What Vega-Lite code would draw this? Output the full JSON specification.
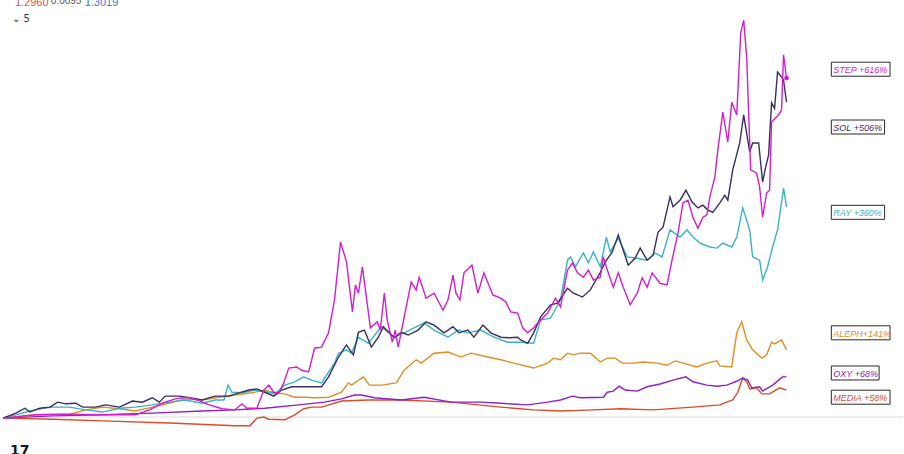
{
  "$schema": "https://vega.github.io/schema/vega-lite/v6.json",
  "width": 904,
  "height": 454,
  "autosize": {"type": "fit", "contains": "padding"},
  "padding": 0,
  "background": "#ffffff",
  "config": {"view": {"stroke": null}},
  "datasets": {
    "prices": [
      {"s":"MEDIA","t":0,"v":-2},{"s":"MEDIA","t":50,"v":-4},{"s":"MEDIA","t":100,"v":-7},{"s":"MEDIA","t":167,"v":-11},{"s":"MEDIA","t":233,"v":-16},{"s":"MEDIA","t":248,"v":-16},{"s":"MEDIA","t":255,"v":-2},{"s":"MEDIA","t":262,"v":0},{"s":"MEDIA","t":267,"v":-4},{"s":"MEDIA","t":283,"v":-5},{"s":"MEDIA","t":293,"v":4},{"s":"MEDIA","t":302,"v":15},{"s":"MEDIA","t":310,"v":18},{"s":"MEDIA","t":320,"v":18},{"s":"MEDIA","t":340,"v":29},{"s":"MEDIA","t":367,"v":31},{"s":"MEDIA","t":400,"v":31},{"s":"MEDIA","t":450,"v":27},{"s":"MEDIA","t":500,"v":18},{"s":"MEDIA","t":533,"v":13},{"s":"MEDIA","t":560,"v":11},{"s":"MEDIA","t":593,"v":13},{"s":"MEDIA","t":620,"v":15},{"s":"MEDIA","t":653,"v":13},{"s":"MEDIA","t":693,"v":18},{"s":"MEDIA","t":720,"v":22},{"s":"MEDIA","t":727,"v":27},{"s":"MEDIA","t":733,"v":31},{"s":"MEDIA","t":738,"v":45},{"s":"MEDIA","t":743,"v":71},{"s":"MEDIA","t":747,"v":64},{"s":"MEDIA","t":750,"v":51},{"s":"MEDIA","t":757,"v":53},{"s":"MEDIA","t":762,"v":42},{"s":"MEDIA","t":770,"v":42},{"s":"MEDIA","t":780,"v":53},{"s":"MEDIA","t":787,"v":49},

      {"s":"OXY","t":0,"v":-2},{"s":"OXY","t":50,"v":2},{"s":"OXY","t":100,"v":4},{"s":"OXY","t":150,"v":7},{"s":"OXY","t":200,"v":11},{"s":"OXY","t":233,"v":13},{"s":"OXY","t":263,"v":16},{"s":"OXY","t":297,"v":22},{"s":"OXY","t":323,"v":27},{"s":"OXY","t":340,"v":33},{"s":"OXY","t":353,"v":40},{"s":"OXY","t":360,"v":40},{"s":"OXY","t":373,"v":35},{"s":"OXY","t":400,"v":31},{"s":"OXY","t":423,"v":36},{"s":"OXY","t":450,"v":27},{"s":"OXY","t":480,"v":27},{"s":"OXY","t":500,"v":25},{"s":"OXY","t":527,"v":22},{"s":"OXY","t":547,"v":27},{"s":"OXY","t":560,"v":31},{"s":"OXY","t":572,"v":38},{"s":"OXY","t":580,"v":35},{"s":"OXY","t":603,"v":36},{"s":"OXY","t":607,"v":45},{"s":"OXY","t":613,"v":47},{"s":"OXY","t":619,"v":56},{"s":"OXY","t":625,"v":49},{"s":"OXY","t":637,"v":47},{"s":"OXY","t":647,"v":55},{"s":"OXY","t":660,"v":60},{"s":"OXY","t":673,"v":67},{"s":"OXY","t":686,"v":73},{"s":"OXY","t":693,"v":64},{"s":"OXY","t":707,"v":58},{"s":"OXY","t":717,"v":56},{"s":"OXY","t":727,"v":58},{"s":"OXY","t":737,"v":65},{"s":"OXY","t":743,"v":71},{"s":"OXY","t":748,"v":67},{"s":"OXY","t":752,"v":53},{"s":"OXY","t":760,"v":55},{"s":"OXY","t":763,"v":47},{"s":"OXY","t":773,"v":58},{"s":"OXY","t":783,"v":73},{"s":"OXY","t":787,"v":73},

      {"s":"ALEPH","t":0,"v":-2},{"s":"ALEPH","t":33,"v":4},{"s":"ALEPH","t":67,"v":5},{"s":"ALEPH","t":83,"v":13},{"s":"ALEPH","t":100,"v":18},{"s":"ALEPH","t":117,"v":15},{"s":"ALEPH","t":133,"v":11},{"s":"ALEPH","t":150,"v":18},{"s":"ALEPH","t":167,"v":25},{"s":"ALEPH","t":183,"v":33},{"s":"ALEPH","t":200,"v":31},{"s":"ALEPH","t":217,"v":36},{"s":"ALEPH","t":233,"v":40},{"s":"ALEPH","t":250,"v":44},{"s":"ALEPH","t":263,"v":49},{"s":"ALEPH","t":273,"v":44},{"s":"ALEPH","t":283,"v":42},{"s":"ALEPH","t":293,"v":36},{"s":"ALEPH","t":303,"v":36},{"s":"ALEPH","t":313,"v":35},{"s":"ALEPH","t":327,"v":36},{"s":"ALEPH","t":340,"v":45},{"s":"ALEPH","t":347,"v":62},{"s":"ALEPH","t":350,"v":58},{"s":"ALEPH","t":362,"v":73},{"s":"ALEPH","t":368,"v":58},{"s":"ALEPH","t":380,"v":58},{"s":"ALEPH","t":395,"v":62},{"s":"ALEPH","t":403,"v":85},{"s":"ALEPH","t":415,"v":104},{"s":"ALEPH","t":420,"v":98},{"s":"ALEPH","t":433,"v":116},{"s":"ALEPH","t":447,"v":118},{"s":"ALEPH","t":460,"v":109},{"s":"ALEPH","t":470,"v":116},{"s":"ALEPH","t":487,"v":109},{"s":"ALEPH","t":500,"v":104},{"s":"ALEPH","t":513,"v":98},{"s":"ALEPH","t":533,"v":89},{"s":"ALEPH","t":547,"v":98},{"s":"ALEPH","t":553,"v":107},{"s":"ALEPH","t":560,"v":104},{"s":"ALEPH","t":567,"v":116},{"s":"ALEPH","t":573,"v":113},{"s":"ALEPH","t":580,"v":116},{"s":"ALEPH","t":590,"v":116},{"s":"ALEPH","t":600,"v":100},{"s":"ALEPH","t":607,"v":107},{"s":"ALEPH","t":615,"v":107},{"s":"ALEPH","t":622,"v":98},{"s":"ALEPH","t":633,"v":98},{"s":"ALEPH","t":643,"v":100},{"s":"ALEPH","t":657,"v":98},{"s":"ALEPH","t":667,"v":94},{"s":"ALEPH","t":675,"v":102},{"s":"ALEPH","t":683,"v":98},{"s":"ALEPH","t":697,"v":91},{"s":"ALEPH","t":707,"v":98},{"s":"ALEPH","t":717,"v":102},{"s":"ALEPH","t":720,"v":93},{"s":"ALEPH","t":732,"v":91},{"s":"ALEPH","t":737,"v":153},{"s":"ALEPH","t":742,"v":173},{"s":"ALEPH","t":747,"v":140},{"s":"ALEPH","t":753,"v":122},{"s":"ALEPH","t":762,"v":107},{"s":"ALEPH","t":767,"v":113},{"s":"ALEPH","t":772,"v":136},{"s":"ALEPH","t":775,"v":133},{"s":"ALEPH","t":782,"v":140},{"s":"ALEPH","t":787,"v":122},

      {"s":"RAY","t":0,"v":-2},{"s":"RAY","t":13,"v":4},{"s":"RAY","t":27,"v":11},{"s":"RAY","t":40,"v":16},{"s":"RAY","t":50,"v":18},{"s":"RAY","t":67,"v":18},{"s":"RAY","t":83,"v":13},{"s":"RAY","t":100,"v":9},{"s":"RAY","t":117,"v":16},{"s":"RAY","t":133,"v":18},{"s":"RAY","t":150,"v":22},{"s":"RAY","t":167,"v":27},{"s":"RAY","t":183,"v":31},{"s":"RAY","t":200,"v":25},{"s":"RAY","t":213,"v":31},{"s":"RAY","t":222,"v":31},{"s":"RAY","t":226,"v":58},{"s":"RAY","t":230,"v":45},{"s":"RAY","t":240,"v":44},{"s":"RAY","t":253,"v":49},{"s":"RAY","t":267,"v":45},{"s":"RAY","t":273,"v":42},{"s":"RAY","t":283,"v":58},{"s":"RAY","t":293,"v":64},{"s":"RAY","t":302,"v":73},{"s":"RAY","t":310,"v":67},{"s":"RAY","t":320,"v":62},{"s":"RAY","t":333,"v":98},{"s":"RAY","t":337,"v":116},{"s":"RAY","t":345,"v":122},{"s":"RAY","t":350,"v":116},{"s":"RAY","t":357,"v":145},{"s":"RAY","t":367,"v":134},{"s":"RAY","t":380,"v":164},{"s":"RAY","t":393,"v":145},{"s":"RAY","t":403,"v":153},{"s":"RAY","t":423,"v":171},{"s":"RAY","t":433,"v":158},{"s":"RAY","t":447,"v":145},{"s":"RAY","t":457,"v":158},{"s":"RAY","t":467,"v":153},{"s":"RAY","t":480,"v":158},{"s":"RAY","t":493,"v":145},{"s":"RAY","t":507,"v":136},{"s":"RAY","t":520,"v":136},{"s":"RAY","t":533,"v":134},{"s":"RAY","t":540,"v":176},{"s":"RAY","t":550,"v":180},{"s":"RAY","t":560,"v":213},{"s":"RAY","t":567,"v":285},{"s":"RAY","t":570,"v":291},{"s":"RAY","t":575,"v":273},{"s":"RAY","t":583,"v":298},{"s":"RAY","t":588,"v":280},{"s":"RAY","t":593,"v":300},{"s":"RAY","t":600,"v":273},{"s":"RAY","t":606,"v":327},{"s":"RAY","t":610,"v":300},{"s":"RAY","t":618,"v":325},{"s":"RAY","t":627,"v":291},{"s":"RAY","t":635,"v":289},{"s":"RAY","t":647,"v":285},{"s":"RAY","t":655,"v":298},{"s":"RAY","t":662,"v":291},{"s":"RAY","t":670,"v":340},{"s":"RAY","t":680,"v":327},{"s":"RAY","t":687,"v":340},{"s":"RAY","t":693,"v":327},{"s":"RAY","t":700,"v":316},{"s":"RAY","t":710,"v":309},{"s":"RAY","t":717,"v":307},{"s":"RAY","t":723,"v":316},{"s":"RAY","t":732,"v":309},{"s":"RAY","t":737,"v":327},{"s":"RAY","t":743,"v":380},{"s":"RAY","t":750,"v":340},{"s":"RAY","t":753,"v":291},{"s":"RAY","t":760,"v":285},{"s":"RAY","t":763,"v":249},{"s":"RAY","t":768,"v":273},{"s":"RAY","t":773,"v":309},{"s":"RAY","t":778,"v":340},{"s":"RAY","t":784,"v":416},{"s":"RAY","t":787,"v":382},

      {"s":"SOL","t":0,"v":-2},{"s":"SOL","t":13,"v":7},{"s":"SOL","t":22,"v":16},{"s":"SOL","t":27,"v":9},{"s":"SOL","t":37,"v":16},{"s":"SOL","t":47,"v":18},{"s":"SOL","t":55,"v":27},{"s":"SOL","t":63,"v":24},{"s":"SOL","t":73,"v":25},{"s":"SOL","t":80,"v":18},{"s":"SOL","t":93,"v":18},{"s":"SOL","t":103,"v":22},{"s":"SOL","t":117,"v":18},{"s":"SOL","t":130,"v":29},{"s":"SOL","t":140,"v":27},{"s":"SOL","t":150,"v":35},{"s":"SOL","t":157,"v":27},{"s":"SOL","t":163,"v":38},{"s":"SOL","t":177,"v":38},{"s":"SOL","t":187,"v":35},{"s":"SOL","t":200,"v":31},{"s":"SOL","t":213,"v":38},{"s":"SOL","t":227,"v":38},{"s":"SOL","t":237,"v":44},{"s":"SOL","t":247,"v":49},{"s":"SOL","t":255,"v":51},{"s":"SOL","t":263,"v":45},{"s":"SOL","t":272,"v":38},{"s":"SOL","t":280,"v":49},{"s":"SOL","t":290,"v":55},{"s":"SOL","t":300,"v":55},{"s":"SOL","t":310,"v":55},{"s":"SOL","t":320,"v":55},{"s":"SOL","t":327,"v":73},{"s":"SOL","t":337,"v":109},{"s":"SOL","t":345,"v":131},{"s":"SOL","t":352,"v":113},{"s":"SOL","t":357,"v":154},{"s":"SOL","t":363,"v":158},{"s":"SOL","t":370,"v":127},{"s":"SOL","t":377,"v":145},{"s":"SOL","t":382,"v":164},{"s":"SOL","t":388,"v":153},{"s":"SOL","t":393,"v":144},{"s":"SOL","t":400,"v":154},{"s":"SOL","t":407,"v":149},{"s":"SOL","t":417,"v":158},{"s":"SOL","t":425,"v":173},{"s":"SOL","t":433,"v":167},{"s":"SOL","t":443,"v":153},{"s":"SOL","t":452,"v":164},{"s":"SOL","t":458,"v":153},{"s":"SOL","t":467,"v":158},{"s":"SOL","t":473,"v":145},{"s":"SOL","t":482,"v":167},{"s":"SOL","t":490,"v":153},{"s":"SOL","t":500,"v":145},{"s":"SOL","t":508,"v":144},{"s":"SOL","t":517,"v":145},{"s":"SOL","t":520,"v":140},{"s":"SOL","t":527,"v":134},{"s":"SOL","t":533,"v":153},{"s":"SOL","t":540,"v":182},{"s":"SOL","t":550,"v":204},{"s":"SOL","t":557,"v":207},{"s":"SOL","t":567,"v":234},{"s":"SOL","t":573,"v":225},{"s":"SOL","t":582,"v":218},{"s":"SOL","t":590,"v":231},{"s":"SOL","t":600,"v":263},{"s":"SOL","t":605,"v":282},{"s":"SOL","t":612,"v":300},{"s":"SOL","t":618,"v":331},{"s":"SOL","t":623,"v":303},{"s":"SOL","t":628,"v":276},{"s":"SOL","t":635,"v":289},{"s":"SOL","t":640,"v":307},{"s":"SOL","t":647,"v":285},{"s":"SOL","t":653,"v":294},{"s":"SOL","t":658,"v":336},{"s":"SOL","t":663,"v":345},{"s":"SOL","t":670,"v":400},{"s":"SOL","t":673,"v":382},{"s":"SOL","t":680,"v":394},{"s":"SOL","t":686,"v":412},{"s":"SOL","t":692,"v":391},{"s":"SOL","t":698,"v":380},{"s":"SOL","t":703,"v":385},{"s":"SOL","t":708,"v":376},{"s":"SOL","t":713,"v":372},{"s":"SOL","t":720,"v":389},{"s":"SOL","t":725,"v":403},{"s":"SOL","t":728,"v":394},{"s":"SOL","t":733,"v":449},{"s":"SOL","t":740,"v":498},{"s":"SOL","t":744,"v":549},{"s":"SOL","t":750,"v":482},{"s":"SOL","t":753,"v":498},{"s":"SOL","t":759,"v":498},{"s":"SOL","t":763,"v":427},{"s":"SOL","t":766,"v":454},{"s":"SOL","t":769,"v":476},{"s":"SOL","t":772,"v":571},{"s":"SOL","t":775,"v":561},{"s":"SOL","t":778,"v":627},{"s":"SOL","t":782,"v":618},{"s":"SOL","t":784,"v":612},{"s":"SOL","t":787,"v":572},

      {"s":"STEP","t":0,"v":-2},{"s":"STEP","t":33,"v":4},{"s":"STEP","t":60,"v":5},{"s":"STEP","t":100,"v":4},{"s":"STEP","t":133,"v":4},{"s":"STEP","t":147,"v":13},{"s":"STEP","t":160,"v":25},{"s":"STEP","t":173,"v":33},{"s":"STEP","t":185,"v":36},{"s":"STEP","t":195,"v":31},{"s":"STEP","t":207,"v":22},{"s":"STEP","t":220,"v":15},{"s":"STEP","t":233,"v":13},{"s":"STEP","t":240,"v":24},{"s":"STEP","t":245,"v":16},{"s":"STEP","t":255,"v":16},{"s":"STEP","t":262,"v":49},{"s":"STEP","t":267,"v":58},{"s":"STEP","t":272,"v":45},{"s":"STEP","t":277,"v":44},{"s":"STEP","t":282,"v":62},{"s":"STEP","t":287,"v":89},{"s":"STEP","t":295,"v":91},{"s":"STEP","t":300,"v":85},{"s":"STEP","t":307,"v":82},{"s":"STEP","t":313,"v":125},{"s":"STEP","t":320,"v":127},{"s":"STEP","t":327,"v":153},{"s":"STEP","t":333,"v":213},{"s":"STEP","t":339,"v":318},{"s":"STEP","t":345,"v":282},{"s":"STEP","t":351,"v":191},{"s":"STEP","t":354,"v":240},{"s":"STEP","t":357,"v":225},{"s":"STEP","t":361,"v":273},{"s":"STEP","t":365,"v":218},{"s":"STEP","t":369,"v":162},{"s":"STEP","t":376,"v":173},{"s":"STEP","t":379,"v":158},{"s":"STEP","t":383,"v":225},{"s":"STEP","t":386,"v":176},{"s":"STEP","t":391,"v":136},{"s":"STEP","t":394,"v":158},{"s":"STEP","t":397,"v":127},{"s":"STEP","t":403,"v":182},{"s":"STEP","t":410,"v":245},{"s":"STEP","t":415,"v":231},{"s":"STEP","t":418,"v":254},{"s":"STEP","t":425,"v":216},{"s":"STEP","t":433,"v":225},{"s":"STEP","t":442,"v":194},{"s":"STEP","t":447,"v":213},{"s":"STEP","t":452,"v":258},{"s":"STEP","t":455,"v":225},{"s":"STEP","t":459,"v":213},{"s":"STEP","t":463,"v":262},{"s":"STEP","t":471,"v":276},{"s":"STEP","t":477,"v":225},{"s":"STEP","t":483,"v":262},{"s":"STEP","t":492,"v":222},{"s":"STEP","t":500,"v":216},{"s":"STEP","t":505,"v":209},{"s":"STEP","t":510,"v":191},{"s":"STEP","t":517,"v":189},{"s":"STEP","t":522,"v":162},{"s":"STEP","t":527,"v":153},{"s":"STEP","t":533,"v":162},{"s":"STEP","t":537,"v":171},{"s":"STEP","t":547,"v":189},{"s":"STEP","t":555,"v":216},{"s":"STEP","t":560,"v":200},{"s":"STEP","t":567,"v":267},{"s":"STEP","t":572,"v":280},{"s":"STEP","t":577,"v":262},{"s":"STEP","t":583,"v":254},{"s":"STEP","t":588,"v":267},{"s":"STEP","t":593,"v":249},{"s":"STEP","t":600,"v":254},{"s":"STEP","t":603,"v":291},{"s":"STEP","t":607,"v":267},{"s":"STEP","t":613,"v":236},{"s":"STEP","t":618,"v":262},{"s":"STEP","t":623,"v":236},{"s":"STEP","t":630,"v":204},{"s":"STEP","t":637,"v":225},{"s":"STEP","t":642,"v":253},{"s":"STEP","t":647,"v":236},{"s":"STEP","t":652,"v":262},{"s":"STEP","t":660,"v":243},{"s":"STEP","t":667,"v":240},{"s":"STEP","t":672,"v":285},{"s":"STEP","t":678,"v":334},{"s":"STEP","t":683,"v":389},{"s":"STEP","t":688,"v":394},{"s":"STEP","t":693,"v":363},{"s":"STEP","t":698,"v":343},{"s":"STEP","t":703,"v":363},{"s":"STEP","t":707,"v":367},{"s":"STEP","t":710,"v":400},{"s":"STEP","t":715,"v":436},{"s":"STEP","t":718,"v":485},{"s":"STEP","t":723,"v":554},{"s":"STEP","t":728,"v":500},{"s":"STEP","t":732,"v":572},{"s":"STEP","t":737,"v":549},{"s":"STEP","t":741,"v":698},{"s":"STEP","t":744,"v":721},{"s":"STEP","t":747,"v":654},{"s":"STEP","t":751,"v":449},{"s":"STEP","t":757,"v":443},{"s":"STEP","t":760,"v":418},{"s":"STEP","t":763,"v":363},{"s":"STEP","t":767,"v":407},{"s":"STEP","t":770,"v":412},{"s":"STEP","t":772,"v":536},{"s":"STEP","t":777,"v":545},{"s":"STEP","t":780,"v":552},{"s":"STEP","t":782,"v":558},{"s":"STEP","t":784,"v":658},{"s":"STEP","t":787,"v":616}
    ],
    "labels": [
      {"s":"STEP","text":"STEP +616%","lv":632},
      {"s":"SOL","text":"SOL +506%","lv":527},
      {"s":"RAY","text":"RAY +360%","lv":372},
      {"s":"ALEPH","text":"ALEPH+141%","lv":153},
      {"s":"OXY","text":"OXY +68%","lv":80},
      {"s":"MEDIA","text":"MEDIA +58%","lv":36}
    ]
  },
  "layer": [
    {
      "data": {"values": [{"zero": 0}]},
      "mark": {"type": "rule", "color": "#dadada", "strokeWidth": 1},
      "encoding": {
        "y": {"field": "zero", "type": "quantitative", "scale": {"domain": [-67.2, 757.8], "nice": false, "zero": false}, "axis": null}
      }
    },
    {
      "data": {"name": "prices"},
      "mark": {"type": "line", "strokeWidth": 1.4, "interpolate": "linear"},
      "encoding": {
        "x": {"field": "t", "type": "quantitative", "scale": {"domain": [0, 904], "nice": false, "zero": false}, "axis": null},
        "y": {"field": "v", "type": "quantitative", "scale": {"domain": [-67.2, 757.8], "nice": false, "zero": false}, "axis": null},
        "color": {"field": "s", "type": "nominal", "legend": null,
          "scale": {"domain": ["MEDIA","OXY","ALEPH","RAY","SOL","STEP"], "range": ["#dc4a2c","#8b22c6","#e08e25","#3ab4c4","#3c2e5e","#d21ecd"]}},
        "order": {"field": "t", "type": "quantitative"}
      }
    },
    {
      "data": {"name": "prices"},
      "transform": [{"filter": "datum.s === 'STEP' && datum.t === 787"}],
      "mark": {"type": "point", "filled": true, "size": 22, "opacity": 1},
      "encoding": {
        "x": {"field": "t", "type": "quantitative", "axis": null},
        "y": {"field": "v", "type": "quantitative", "axis": null},
        "color": {"field": "s", "type": "nominal", "legend": null}
      }
    },
    {
      "data": {"name": "labels"},
      "transform": [
        {"calculate": "832", "as": "t"},
        {"calculate": "832 + length(datum.text) * 5.5 + 4", "as": "tEnd"}
      ],
      "mark": {"type": "rect", "height": 14, "fill": "#ffffff", "stroke": "#2a2a2a", "strokeWidth": 1},
      "encoding": {
        "x": {"field": "t", "type": "quantitative", "axis": null},
        "x2": {"field": "tEnd"},
        "y": {"field": "lv", "type": "quantitative", "axis": null}
      }
    },
    {
      "data": {"name": "labels"},
      "transform": [{"calculate": "832", "as": "t"}],
      "mark": {"type": "text", "align": "left", "baseline": "middle", "dx": 2, "dy": 1, "font": "Liberation Sans", "fontStyle": "italic", "fontSize": 9},
      "encoding": {
        "x": {"field": "t", "type": "quantitative", "axis": null},
        "y": {"field": "lv", "type": "quantitative", "axis": null},
        "text": {"field": "text"},
        "color": {"field": "s", "type": "nominal", "legend": null}
      }
    },
    {
      "data": {"values": [{"t": 12, "v": 744, "txt": "1.2960"}]},
      "mark": {"type": "text", "align": "left", "baseline": "bottom", "font": "Liberation Sans", "fontSize": 11, "color": "#e0504a", "clip": true},
      "encoding": {
        "x": {"field": "t", "type": "quantitative", "axis": null},
        "y": {"field": "v", "type": "quantitative", "axis": null},
        "text": {"field": "txt"}
      }
    },
    {
      "data": {"values": [{"t": 48, "v": 746, "txt": "0.0095"}]},
      "mark": {"type": "text", "align": "left", "baseline": "bottom", "font": "Liberation Sans", "fontSize": 10, "color": "#555555", "clip": true},
      "encoding": {
        "x": {"field": "t", "type": "quantitative", "axis": null},
        "y": {"field": "v", "type": "quantitative", "axis": null},
        "text": {"field": "txt"}
      }
    },
    {
      "data": {"values": [{"t": 82, "v": 744, "txt": "1.3019"}]},
      "mark": {"type": "text", "align": "left", "baseline": "bottom", "font": "Liberation Sans", "fontSize": 11, "color": "#3a78d0", "clip": true},
      "encoding": {
        "x": {"field": "t", "type": "quantitative", "axis": null},
        "y": {"field": "v", "type": "quantitative", "axis": null},
        "text": {"field": "txt"}
      }
    },
    {
      "data": {"values": [{"t": 9, "v": 723, "txt": "⌄ 5"}]},
      "mark": {"type": "text", "align": "left", "baseline": "middle", "font": "DejaVu Sans", "fontSize": 10, "color": "#333333"},
      "encoding": {
        "x": {"field": "t", "type": "quantitative", "axis": null},
        "y": {"field": "v", "type": "quantitative", "axis": null},
        "text": {"field": "txt"}
      }
    },
    {
      "data": {"values": [{"t": 7, "v": -49, "txt": "17"}]},
      "mark": {"type": "text", "align": "left", "baseline": "top", "font": "DejaVu Sans", "fontWeight": "bold", "fontSize": 14, "color": "#131722", "clip": true},
      "encoding": {
        "x": {"field": "t", "type": "quantitative", "axis": null},
        "y": {"field": "v", "type": "quantitative", "axis": null},
        "text": {"field": "txt"}
      }
    }
  ]
}
